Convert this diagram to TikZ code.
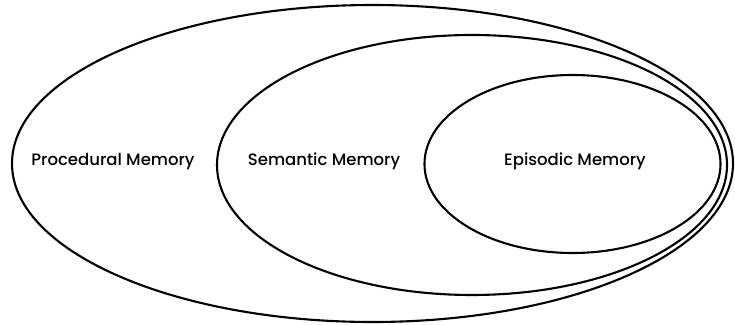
\documentclass[tikz,border=0pt]{standalone}
\usepackage{fontspec}
\setmainfont{Poppins}[UprightFont=* Medium]
\usetikzlibrary{shapes.geometric,positioning}

\tikzset{
  memset/.style={ellipse,draw=black,line width=2.1pt,inner sep=0pt},
  memlabel/.style={anchor=base,font=\fontsize{16.5}{19}\selectfont}
}

\begin{document}
\begin{tikzpicture}[x=1pt,y=1pt]
\useasboundingbox (0,0) rectangle (735,324);
\node[memset,minimum width=721pt,minimum height=317pt] (proc) at (372.5,160.5) {};
\node[memset,minimum width=510pt,minimum height=260pt] (sem) at (472,159) {};
\node[memset,minimum width=296pt,minimum height=178pt] (epi) at (572.5,160) {};
\node[memlabel] (proclabel) at (113,158) {Procedural Memory};
\node[memlabel] (semlabel) at (324,158) {Semantic Memory};
\node[memlabel] (epilabel) at (575,158) {Episodic Memory};
\end{tikzpicture}
\end{document}
